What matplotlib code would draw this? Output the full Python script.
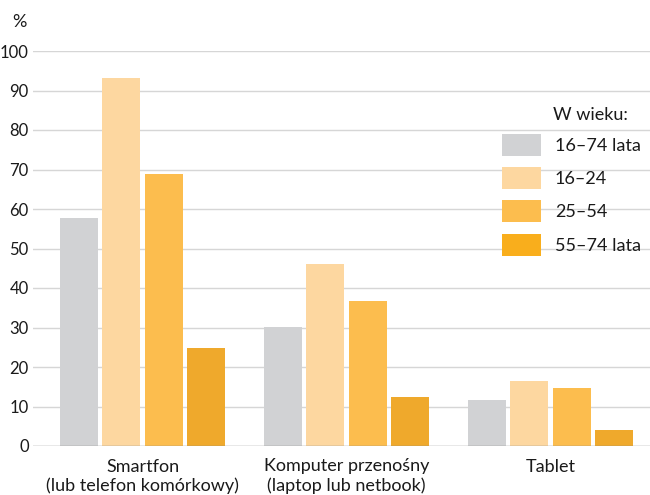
import matplotlib
matplotlib.use("Agg")
import matplotlib.pyplot as plt
import numpy as np
from matplotlib.patches import Patch

categories = ["Smartfon\n(lub telefon komórkowy)", "Komputer przenośny\n(laptop lub netbook)", "Tablet"]
series_names = ["16–74 lata", "16–24", "25–54", "55–74 lata"]
values = {
    "16–74 lata": [57.8, 30.1, 11.6],
    "16–24": [93.2, 46.1, 16.5],
    "25–54": [68.9, 36.7, 14.7],
    "55–74 lata": [24.8, 12.4, 4.0],
}
bar_colors = ["#d1d2d4", "#fdd7a0", "#fcbd4e", "#efa92c"]
legend_colors = ["#d1d2d4", "#fdd7a0", "#fcbd4e", "#f9ae1c"]
yticks = [0, 10, 20, 30, 40, 50, 60, 70, 80, 90, 100]

plt.rcParams['font.family'] = ['Lato', 'DejaVu Sans']
fig = plt.figure(figsize=(6.5, 4.95), dpi=100)
ax = fig.add_axes([33/650, 49/495, 617/650, 395/495])

x = np.arange(len(categories))
step = 0.208
width = 0.186
for i, name in enumerate(series_names):
    ax.bar(x + (i - 1.5) * step, values[name], width=width, color=bar_colors[i], zorder=3)

ax.set_ylim(0, 100)
ax.set_xlim(-0.537, 2.488)
ax.set_yticks(yticks)
ax.set_yticklabels([str(t) for t in yticks], fontsize=12, color="#1a1a1a")
ax.set_xticks(x)
ax.set_xticklabels(categories, fontsize=13, color="#1a1a1a", linespacing=1.25)
ax.tick_params(axis='both', length=0, pad=3)
ax.tick_params(axis='x', pad=9)
for t in yticks[1:]:
    ax.axhline(t, color="#d6d6d6", lw=1.0, zorder=1)
ax.axhline(0, color="#8c8c8c", lw=1.0, zorder=4)
for s in ax.spines.values():
    s.set_visible(False)

fig.text(12/650, 1 - 22/495, "%", fontsize=13, color="#1a1a1a", va="center", ha="left")

handles = [Patch(facecolor=c, edgecolor='none') for c in legend_colors]
leg = ax.legend(handles, series_names, loc="upper left", bbox_to_anchor=(0.7595, 0.79),
                frameon=False, fontsize=13, handlelength=2.19, handleheight=1.487,
                labelspacing=0.63, handletextpad=0.755, borderaxespad=0, borderpad=0)
for t in leg.get_texts():
    t.set_color("#1a1a1a")
fig.text(553/650, 1 - 115/495, "W wieku:", fontsize=13, color="#1a1a1a", va="center", ha="left")

fig.savefig("out.png", dpi=100)
